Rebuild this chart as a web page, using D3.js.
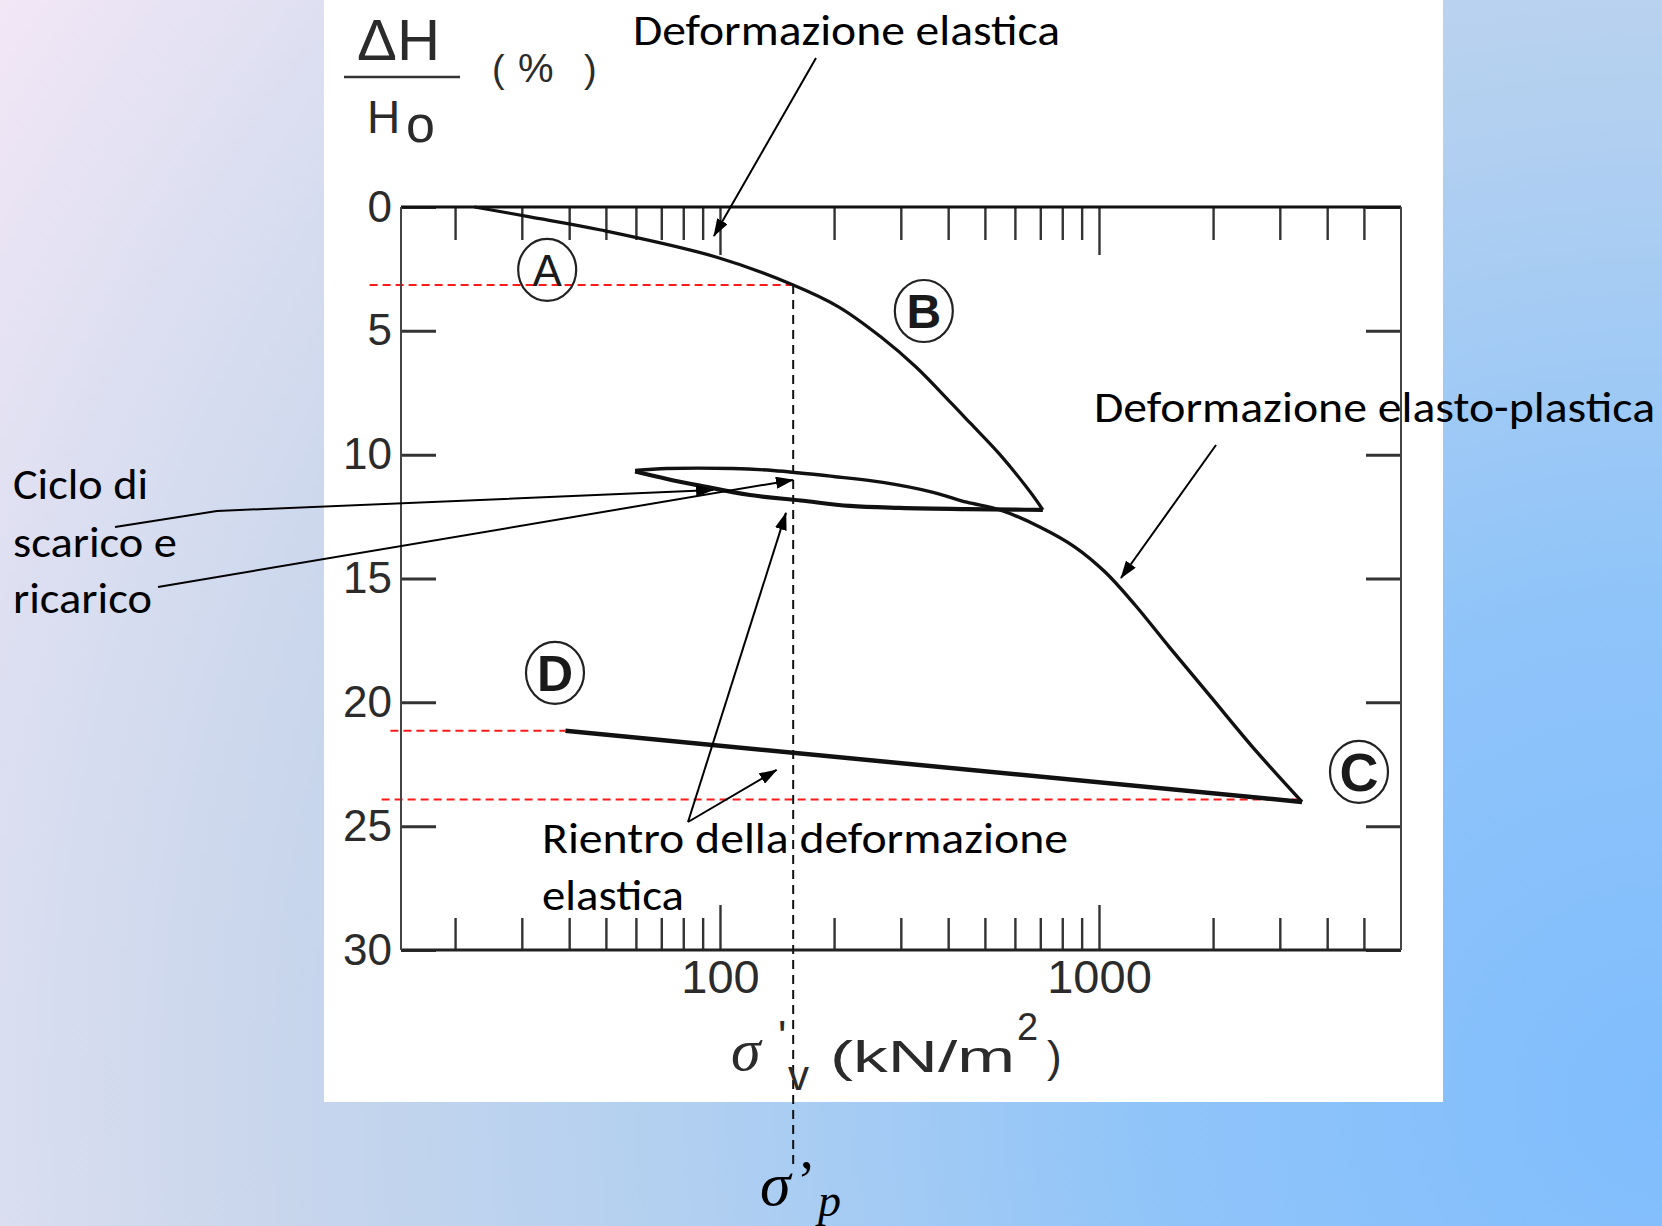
<!DOCTYPE html>
<html>
<head>
<meta charset="utf-8">
<script src="https://cdn.jsdelivr.net/npm/d3@7"></script>
<style>
html, body { margin: 0; padding: 0; overflow: hidden; }
svg { display: block; }
</style>
</head>
<body>
<svg id="chart" width="1662" height="1226"></svg>
<script>
// oedometer curve: sigma'v (kN/m2) vs ΔH/Ho (%)
const loadAB = [[22.5,0],[31.5,0.4],[48.5,0.93],[97.6,2.02],[156,3.15],[206,4.04],[266,5.25],[329,6.46],[407,7.91],[457,8.72],[548,10.0],[658,11.5],[711,12.23]];
const unloadB = [[711,12.23],[600,12.22],[448,12.2],[298,12.15],[220,12.07],[163,11.85],[120,11.63],[88.5,11.25],[72.5,10.98],[59.7,10.68]];
const reloadBC = [[59.7,10.64],[72.5,10.56],[108,10.56],[138,10.64],[199,10.88],[269,11.12],[365,11.52],[448,11.92],[548,12.23],[698,12.92],[864,13.73],[1038,14.74],[1245,16.07],[1539,17.8],[1963,19.74],[2581,21.92],[3433,24.02]];
const unloadCD = [[3433,24.02],[39.1,21.15]];

const sigmaP = 156, epsP = 3.15;
const redLines = [[11.9, 3.15, 156], [13.5, 21.15, 39.1], [12.8, 23.92, 3433]];

const xMinor = [20,30,40,50,60,70,80,90,200,300,400,500,600,700,800,900,2000,3000,4000,5000];
const xMajor = [100, 1000];
const yTicks = [0,5,10,15,20,25,30];

// label, stress, strain, weight, size
const letters = [["A",35,2.54,"normal",44],["B",345,4.2,"bold",48],["C",4853,22.81,"bold",54],["D",36.7,18.81,"bold",50]];

const svg = d3.select("#chart");
const defs = svg.append("defs");

const grad = defs.append("radialGradient").attr("id","bg")
  .attr("gradientUnits","userSpaceOnUse").attr("cx",1662).attr("cy",1100).attr("r",2000);
[[0,"#80bdfd"],[0.25,"#8fc4f9"],[0.5,"#b3d0f0"],[0.7,"#c9d6ec"],[0.85,"#dcdff1"],[1,"#f3e7f6"]]
  .forEach(s => grad.append("stop").attr("offset",s[0]).attr("stop-color",s[1]));

defs.append("marker").attr("id","arr")
  .attr("viewBox","0 0 18 12").attr("refX",17).attr("refY",6)
  .attr("markerWidth",18).attr("markerHeight",12)
  .attr("markerUnits","userSpaceOnUse").attr("orient","auto")
  .append("path").attr("d","M0,0 L18,6 L0,12 Z").attr("fill","#000");

svg.append("rect").attr("width",1662).attr("height",1226).attr("fill","url(#bg)");
svg.append("rect").attr("x",324).attr("y",0).attr("width",1119).attr("height",1102).attr("fill","#fff");

const x = d3.scaleLog().domain([14.4, 6264]).range([401, 1401]);
const y = d3.scaleLinear().domain([0, 30]).range([207, 950]);

// red dashed reference lines
svg.selectAll("line.red").data(redLines).enter().append("line")
  .attr("x1", d => x(d[0])).attr("x2", d => x(d[2]))
  .attr("y1", d => y(d[1])).attr("y2", d => y(d[1]))
  .attr("stroke","#ff1a1a").attr("stroke-width",2).attr("stroke-dasharray","8,5");

// axes
const tickFont = "'Liberation Sans', Arial, Helvetica, sans-serif";
const gTop = svg.append("g").attr("transform",`translate(0,${y(0)})`)
  .call(d3.axisTop(x).tickValues(xMinor.concat(xMajor)).tickSizeInner(-33).tickSizeOuter(0).tickFormat(""));
gTop.selectAll(".tick line").filter(d => xMajor.includes(d)).attr("y2", 48);

const gBottom = svg.append("g").attr("transform",`translate(0,${y(30)})`)
  .call(d3.axisBottom(x).tickValues(xMinor.concat(xMajor)).tickSizeInner(-32).tickSizeOuter(0)
    .tickPadding(10).tickFormat(d => xMajor.includes(d) ? d : ""));
gBottom.selectAll(".tick line").filter(d => xMajor.includes(d)).attr("y2", -45);

const gLeft = svg.append("g").attr("transform",`translate(${x.range()[0]},0)`)
  .call(d3.axisLeft(y).tickValues(yTicks).tickSizeInner(-35).tickSizeOuter(0).tickPadding(9));
const gRight = svg.append("g").attr("transform",`translate(${x.range()[1]},0)`)
  .call(d3.axisRight(y).tickValues(yTicks).tickSizeInner(-35).tickSizeOuter(0).tickFormat(""));

[gTop, gBottom, gLeft, gRight].forEach(g => {
  g.select(".domain").remove();
  g.selectAll(".tick line").attr("stroke","#333").attr("stroke-width",2.4);
  g.selectAll("text").attr("font-family",tickFont).attr("fill","#2b2b2b");
});
gLeft.selectAll(".tick line").attr("stroke-width",3);
gRight.selectAll(".tick line").attr("stroke-width",3);
gBottom.selectAll("text").attr("font-size",47);
gLeft.selectAll("text").attr("font-size",44);

// frame
const [x0, x1] = x.range(), [y0, y1] = y.range();
svg.append("line").attr("x1",x0).attr("x2",x1).attr("y1",y0).attr("y2",y0).attr("stroke","#111").attr("stroke-width",3);
svg.append("line").attr("x1",x0).attr("x2",x1).attr("y1",y1).attr("y2",y1).attr("stroke","#222").attr("stroke-width",3);
svg.append("line").attr("x1",x0).attr("x2",x0).attr("y1",y0).attr("y2",y1).attr("stroke","#444").attr("stroke-width",2);
svg.append("line").attr("x1",x1).attr("x2",x1).attr("y1",y0).attr("y2",y1).attr("stroke","#444").attr("stroke-width",2);

// curves
const line = d3.line().x(d => x(d[0])).y(d => y(d[1])).curve(d3.curveCatmullRom.alpha(0.5));
[[loadAB,3.2],[unloadB,4.2],[reloadBC,3.4],[unloadCD,4.5]].forEach(c => {
  svg.append("path").attr("d", line(c[0])).attr("fill","none")
    .attr("stroke","#111").attr("stroke-width",c[1]).attr("stroke-linejoin","round");
});

// circled letters
const lg = svg.selectAll("g.lett").data(letters).enter().append("g")
  .attr("transform", d => `translate(${x(d[1])},${y(d[2])})`);
lg.append("ellipse").attr("rx",29).attr("ry",31).attr("fill","none").attr("stroke","#222").attr("stroke-width",2.2);
lg.append("text").text(d => d[0]).attr("text-anchor","middle").attr("dy","0.36em")
  .attr("font-family",tickFont).attr("font-size",d => d[4]).attr("font-weight",d => d[3]).attr("fill","#1a1a1a");

// sigma'p vertical dashed line
svg.append("line").attr("x1",x(sigmaP)).attr("x2",x(sigmaP)).attr("y1",y(epsP)).attr("y2",1168)
  .attr("stroke","#111").attr("stroke-width",2).attr("stroke-dasharray","9,6");

// annotation arrows
const arrow = pts => svg.append("path").attr("d", d3.line()(pts)).attr("fill","none")
  .attr("stroke","#000").attr("stroke-width",2).attr("marker-end","url(#arr)");
arrow([[816,58],[x(96.4),y(1.17)]]);
arrow([[115,527],[217,511],[x(95.9),y(11.43)]]);
arrow([[158,587],[x(155.8),y(11.02)]]);
arrow([[x(2036),y(9.61)],[x(1143),y(14.98)]]);
arrow([[688,822],[x(149.3),y(12.35)]]);
arrow([[688,822],[x(141),y(22.73)]]);

// annotation texts
const noteFont = "Carlito, Lato, 'Open Sans', sans-serif";
const notes = [
  ["Deformazione elastica",633,45,427],
  ["Deformazione elasto-plastica",1094,422,561],
  ["Ciclo di",13,499,135],
  ["scarico e",13,557,164],
  ["ricarico",13,613,139],
  ["Rientro della deformazione",542,853,526],
  ["elastica",542,910,142]
];
svg.selectAll("text.note").data(notes).enter().append("text")
  .text(d => d[0]).attr("x", d => d[1]).attr("y", d => d[2])
  .attr("textLength", d => d[3]).attr("lengthAdjust","spacingAndGlyphs")
  .attr("font-family",noteFont).attr("font-size",44).attr("fill","#000");

// y axis title ΔH/Ho (%)
const t = (s, px, py, size, extra) => {
  const e = svg.append("text").text(s).attr("x",px).attr("y",py)
    .attr("font-family",tickFont).attr("font-size",size).attr("fill","#2b2b2b");
  if (extra) extra(e);
  return e;
};
t("ΔH",357,60,58, e => e.attr("textLength",83).attr("lengthAdjust","spacingAndGlyphs"));
svg.append("line").attr("x1",344).attr("x2",460).attr("y1",77).attr("y2",77).attr("stroke","#333").attr("stroke-width",2.5);
t("H",367,133,46);
t("o",406,142,52);
t("(",492,82,38);
t("%",518,82,40);
t(")",584,82,38);

// x axis title σ'v (kN/m²)
const serif = "'Liberation Serif', 'Times New Roman', serif";
t("σ",731,1070,60, e => e.attr("font-family",serif).attr("font-style","italic"));
t("'",778,1052,44);
t("v",788,1090,42);
t("(kN/m",830,1072,44, e => e.attr("textLength",185).attr("lengthAdjust","spacingAndGlyphs"));
t("2",1017,1040,38);
t(")",1047,1072,44);

// σ'p label
t("σ",760,1205,62, e => e.attr("font-family",serif).attr("font-style","italic").attr("fill","#000"));
t("’",797,1200,56, e => e.attr("font-family",serif).attr("fill","#000"));
t("p",818,1216,46, e => e.attr("font-family",serif).attr("font-style","italic").attr("fill","#000"));
</script>
</body>
</html>
